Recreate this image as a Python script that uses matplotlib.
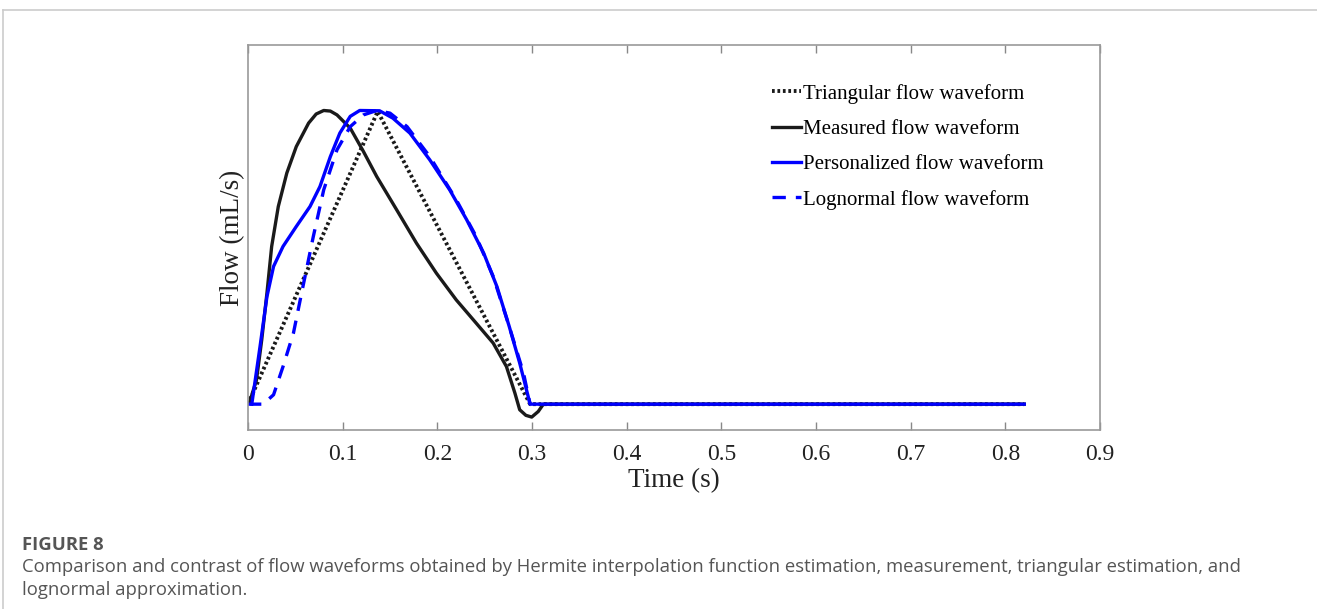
import matplotlib
matplotlib.use("Agg")
import matplotlib.pyplot as plt
from matplotlib.lines import Line2D

plt.rcParams['font.family'] = ['Liberation Serif', 'DejaVu Serif']

# flow waveforms, normalised to peak flow
tri_t = [0.0, 0.137, 0.298, 0.82]
tri_q = [0.0, 0.997, 0.0, 0.0]

meas_t = [0.002, 0.009, 0.0145, 0.020, 0.025, 0.032, 0.041, 0.051, 0.064, 0.072,
          0.080, 0.087, 0.094, 0.108, 0.122, 0.136, 0.157, 0.178, 0.199, 0.220,
          0.241, 0.259, 0.273, 0.282, 0.287, 0.2935, 0.2997, 0.3066, 0.312, 0.82]
meas_q = [0.01, 0.083, 0.219, 0.378, 0.537, 0.673, 0.787, 0.877, 0.957, 0.988,
          1.0, 0.998, 0.985, 0.940, 0.860, 0.775, 0.662, 0.548, 0.446, 0.355,
          0.276, 0.208, 0.128, 0.037, -0.019, -0.038, -0.044, -0.025, 0.0, 0.0]

pers_t = [0.004, 0.0127, 0.020, 0.027, 0.037, 0.051, 0.0655, 0.076, 0.087, 0.097,
          0.108, 0.118, 0.139, 0.153, 0.171, 0.192, 0.213, 0.231, 0.249, 0.263,
          0.276, 0.287, 0.298, 0.82]
pers_q = [0.0, 0.196, 0.366, 0.469, 0.537, 0.605, 0.673, 0.741, 0.843, 0.923,
          0.980, 1.0, 0.999, 0.974, 0.923, 0.832, 0.730, 0.628, 0.514, 0.400,
          0.264, 0.140, 0.0, 0.0]

logn_t = [0.0, 0.016, 0.027, 0.037, 0.048, 0.058, 0.069, 0.080, 0.094, 0.108,
          0.122, 0.136, 0.150, 0.168, 0.192, 0.220, 0.241, 0.259, 0.276, 0.291,
          0.298]
logn_q = [0.0, 0.0, 0.032, 0.128, 0.242, 0.400, 0.571, 0.730, 0.866, 0.945,
          0.985, 1.0, 0.991, 0.945, 0.843, 0.696, 0.571, 0.435, 0.264, 0.106,
          0.0]

labels = ['Triangular flow waveform', 'Measured flow waveform',
          'Personalized flow waveform', 'Lognormal flow waveform']
xticks = [0, 0.1, 0.2, 0.3, 0.4, 0.5, 0.6, 0.7, 0.8, 0.9]

W, H = 1317, 609
fig = plt.figure(figsize=(W / 100, H / 100), dpi=100)

# panel frame
fig.add_artist(Line2D([3 / W, 1], [1 - 10 / H, 1 - 10 / H], transform=fig.transFigure,
                      color='#cccccc', lw=1.2))
fig.add_artist(Line2D([3 / W, 3 / W], [0, 1 - 10 / H], transform=fig.transFigure,
                      color='#cccccc', lw=1.2))

ax = fig.add_axes([248 / W, 1 - 430 / H, 852 / W, 385 / H])
ax.plot(tri_t, tri_q, color='#1a1a1a', lw=2.8, ls=(0, (0.7, 0.7)), label=labels[0])
ax.plot(meas_t, meas_q, color='#1a1a1a', lw=2.4, label=labels[1])
ax.plot(pers_t, pers_q, color='#0000ff', lw=2.4, label=labels[2])
ax.plot(logn_t, logn_q, color='#0000ff', lw=2.4, ls=(0, (4, 3)), label=labels[3])

ax.set_xlim(0, 0.9)
ax.set_ylim(-0.088, 1.223)
ax.set_xticks(xticks)
ax.set_xticklabels([f'{v:g}' for v in xticks])
ax.set_yticks([])
ax.tick_params(axis='x', direction='in', top=True, length=6, width=1,
               color='#888888', labelsize=17, labelcolor='#222222', pad=10)
for s in ax.spines.values():
    s.set_color('#999999')
    s.set_linewidth(1.2)

ax.set_xlabel('Time (s)', fontsize=19.5, color='#222222', labelpad=2)
ax.set_ylabel('Flow (mL/s)', fontsize=19.5, color='#222222', labelpad=2)

ax.legend(loc='upper left', bbox_to_anchor=(0.615, 0.899), frameon=False,
          fontsize=15, handlelength=1.4, handletextpad=0.1, labelspacing=0.75,
          borderpad=0, borderaxespad=0)

fig.text(22 / W, 1 - 545 / H, 'FIGURE 8', family='Open Sans', fontweight='bold',
         fontsize=13.3, color='#555555', va='center')
fig.text(22 / W, 1 - 567 / H,
         'Comparison and contrast of flow waveforms obtained by Hermite interpolation '
         'function estimation, measurement, triangular estimation, and',
         family='Open Sans', fontsize=13.3, color='#555555', va='center')
fig.text(22 / W, 1 - 590 / H, 'lognormal approximation.',
         family='Open Sans', fontsize=13.3, color='#555555', va='center')

fig.savefig('out.png', dpi=100)
